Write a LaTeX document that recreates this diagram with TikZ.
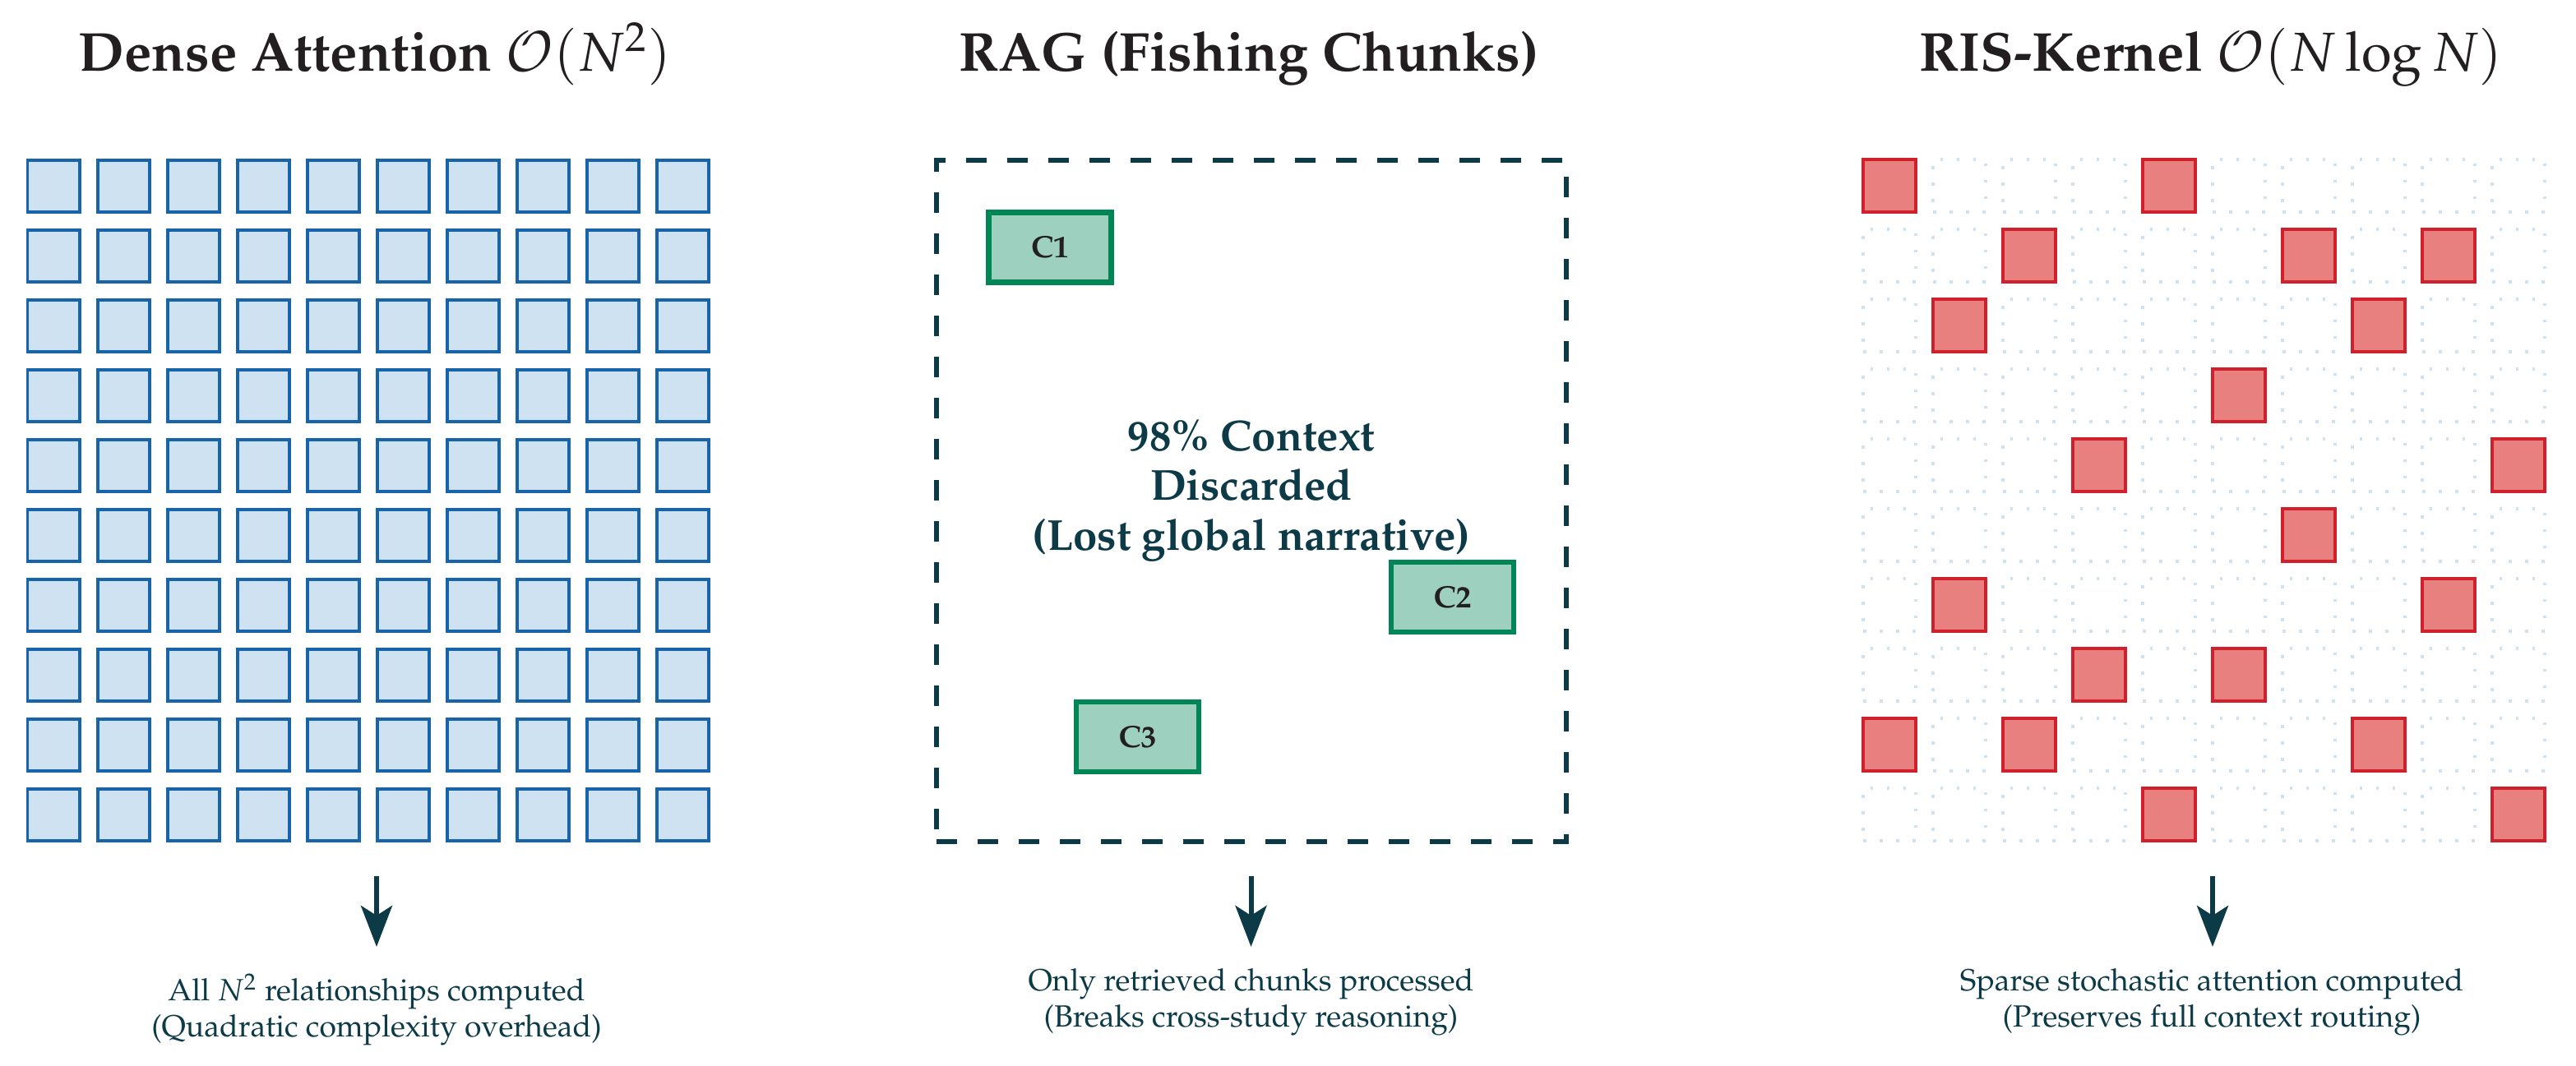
\documentclass[tikz,border=0pt]{standalone}
\usepackage[T1]{fontenc}
\usepackage{mathpazo}
\usetikzlibrary{arrows.meta}
\definecolor{cellfill}{RGB}{207,226,242}
\definecolor{cellline}{RGB}{23,100,171}
\definecolor{redfill}{RGB}{232,128,128}
\definecolor{redline}{RGB}{208,32,44}
\definecolor{mintfill}{RGB}{157,208,190}
\definecolor{mintline}{RGB}{0,133,87}
\definecolor{teal}{RGB}{12,58,71}
\definecolor{ink}{RGB}{35,31,32}
\tikzset{
  densecell/.style={draw=cellline, fill=cellfill, line width=0.04cm, minimum size=0.63cm, inner sep=0pt, outer sep=0pt},
  ghostcell/.style={draw=cellfill, line width=0.04cm, dash pattern=on 0.035cm off 0.165cm, minimum size=0.64cm, inner sep=0pt, outer sep=0pt},
  redcell/.style={draw=redline, fill=redfill, line width=0.04cm, minimum size=0.64cm, inner sep=0pt, outer sep=0pt},
  chunk/.style={draw=mintline, fill=mintfill, line width=0.065cm, minimum width=1.49cm, minimum height=0.85cm, inner sep=0pt, outer sep=0pt, text=ink, font=\fontsize{10.7}{12}\selectfont\bfseries},
  dashbox/.style={draw=teal, line width=0.067cm, dash pattern=on 0.25cm off 0.25cm, minimum width=7.66cm, minimum height=8.29cm, inner sep=0pt, outer sep=0pt},
  paneltitle/.style={anchor=base, text=ink, inner sep=0pt, font=\fontsize{19}{22}\selectfont\bfseries},
  midtext/.style={anchor=base, text=teal, inner sep=0pt, font=\fontsize{15}{17}\selectfont\bfseries},
  caption/.style={anchor=base, text=teal, inner sep=0pt, font=\fontsize{10.6}{12.5}\selectfont},
  flow/.style={draw=teal, line width=0.06cm, -{Stealth[length=0.5cm, width=0.38cm, inset=0.12cm]}}
}
\begin{document}
\begin{tikzpicture}[x=1cm,y=1cm]
\useasboundingbox (0,0) rectangle (31.33,12.97);

% ---------- titles ----------
\node[paneltitle] (t1) at (4.56,12.10) {Dense Attention $\mathcal{O}(N^2)$};
\node[paneltitle] (t2) at (15.19,12.10) {RAG (Fishing Chunks)};
\node[paneltitle] (t3) at (26.89,12.10) {RIS-Kernel $\mathcal{O}(N\log N)$};

% ---------- dense grid ----------
\foreach \r in {0,...,9}{
  \foreach \c in {0,...,9}{
    \node[densecell] (d\r-\c) at ({0.65+0.85*\c},{10.705-0.85*\r}) {};
  }
}

% ---------- RAG panel ----------
\node[dashbox] (ragbox) at (15.22,6.875) {};
\node[chunk] (c1) at (12.77,9.96) {C1};
\node[chunk] (c2) at (17.665,5.705) {C2};
\node[chunk] (c3) at (13.835,4.005) {C3};
\node[midtext] (m1) at (15.22,7.48) {98\% Context};
\node[midtext] (m2) at (15.22,6.88) {Discarded};
\node[midtext] (m3) at (15.22,6.27) {(Lost global narrative)};

% ---------- RIS grid ----------
\foreach \r in {0,...,9}{
  \foreach \c in {0,...,9}{
    \node[ghostcell] (g\r-\c) at ({22.98+0.85*\c},{10.705-0.85*\r}) {};
  }
}
\foreach \r/\c in {0/0,0/4,1/2,1/6,1/8,2/1,2/7,3/5,4/3,4/9,5/6,6/1,6/8,7/3,7/5,8/0,8/2,8/7,9/4,9/9}{
  \node[redcell] (s\r-\c) at ({22.98+0.85*\c},{10.705-0.85*\r}) {};
}

% ---------- arrows ----------
\coordinate (a1s) at (4.58,2.31);  \coordinate (a1e) at (4.58,1.45);
\coordinate (a2s) at (15.215,2.31); \coordinate (a2e) at (15.215,1.45);
\coordinate (a3s) at (26.91,2.31); \coordinate (a3e) at (26.91,1.45);
\draw[flow] (a1s) -- (a1e);
\draw[flow] (a2s) -- (a2e);
\draw[flow] (a3s) -- (a3e);

% ---------- captions ----------
\node[caption] (b1a) at (4.58,0.79) {All $N^2$ relationships computed};
\node[caption] (b1b) at (4.58,0.35) {(Quadratic complexity overhead)};
\node[caption] (b2a) at (15.215,0.91) {Only retrieved chunks processed};
\node[caption] (b2b) at (15.215,0.47) {(Breaks cross-study reasoning)};
\node[caption] (b3a) at (26.90,0.91) {Sparse stochastic attention computed};
\node[caption] (b3b) at (26.90,0.47) {(Preserves full context routing)};
\end{tikzpicture}
\end{document}
